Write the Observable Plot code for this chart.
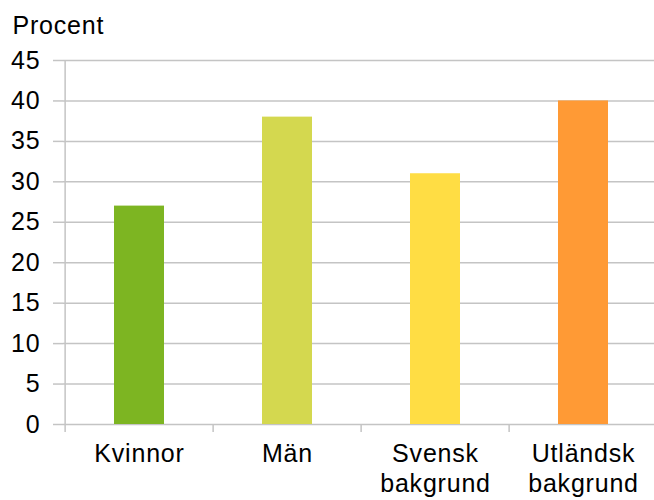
<!DOCTYPE html>
<html>
<head>
<meta charset="utf-8">
<script src="https://cdn.jsdelivr.net/npm/d3@7"></script>
<script src="https://cdn.jsdelivr.net/npm/@observablehq/plot@0.6"></script>
<style>
  html, body { margin: 0; padding: 0; background: #fff; }
  #chart { width: 654px; height: 500px; overflow: hidden; }
  #chart svg text { letter-spacing: 0.8px; }
</style>
</head>
<body>
<div id="chart"></div>
<script>
const categories = ["Kvinnor", "Män", "Svensk\nbakgrund", "Utländsk\nbakgrund"];
const values = [27, 38, 31, 40];
const colors = ["#7db522", "#d4d84f", "#ffdd44", "#ff9a35"];
const yTicks = [0, 5, 10, 15, 20, 25, 30, 35, 40, 45];
const yTitle = "Procent";

const data = categories.map((c, i) => ({category: c, value: values[i]}));

const xRange = [63, 658];
const step = (xRange[1] - xRange[0]) / categories.length;
const gray = "#c4c4c4";

const chart = Plot.plot({
  width: 654,
  height: 500,
  marginTop: 60,
  marginBottom: 76,
  marginLeft: 63,
  marginRight: 0,
  style: {fontFamily: "'Liberation Sans', Arial, sans-serif", fontSize: "25px", color: "#000", background: "#fff"},
  x: {domain: categories, range: xRange, paddingInner: 0.664, paddingOuter: 0.332},
  y: {domain: [0, 45], range: [424, 60]},
  color: {domain: categories, range: colors},
  marks: [
    Plot.gridY(yTicks, {stroke: gray, strokeOpacity: 1, strokeWidth: 1.5}),
    Plot.barY(data, {x: "category", y: "value", fill: "category"}),
    Plot.ruleX([categories[0]], {x: d => d, dx: -step / 2, y1: 45, y2: 0, insetBottom: -8, stroke: gray, strokeWidth: 1.5}),
    Plot.ruleX(categories.slice(1), {x: d => d, dx: -step / 2, y1: 0, y2: 0, insetBottom: -8, stroke: gray, strokeWidth: 1.5}),
    Plot.ruleX([categories[categories.length - 1]], {x: d => d, dx: step / 2, y1: 0, y2: 0, insetBottom: -8, stroke: gray, strokeWidth: 1.5}),
    Plot.axisY(yTicks, {tickSize: 10, tickPadding: 13, stroke: gray, strokeWidth: 1.5, fill: "#000", label: null}),
    Plot.axisX({tickSize: 0, tickPadding: 16, lineHeight: 1.2, fill: "#000", label: null}),
    Plot.text([yTitle], {frameAnchor: "top-left", dx: -51, dy: -27, textAnchor: "start", lineAnchor: "bottom", fill: "#000"})
  ]
});
document.getElementById("chart").appendChild(chart);
</script>
</body>
</html>
